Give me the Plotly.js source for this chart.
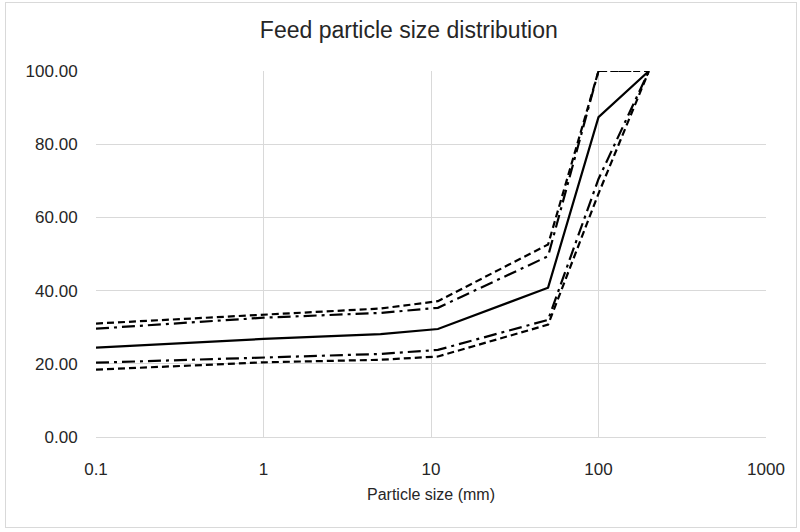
<!DOCTYPE html>
<html>
<head>
<meta charset="utf-8">
<script src="https://cdn.plot.ly/plotly-3.0.1.min.js"></script>
<style>
  html, body { margin: 0; padding: 0; background: #fff; }
  #wrap { position: relative; width: 800px; height: 532px; }
  #chart { width: 800px; height: 532px; }
  #frame { position: absolute; left: 5px; top: 2px; width: 790px; height: 524px; border: 1px solid #d9d9d9; pointer-events: none; }
</style>
</head>
<body>
<div id="wrap"><div id="chart"></div><div id="frame"></div></div>
<script>
// Particle sizes (mm)
const sizes = [0.1, 1, 5, 11, 50, 100, 200];
// Cumulative passing (%) for each curve
const upperDashed = [31.0, 33.4, 35.1, 37.1, 52.6, 100, 100];
const upperDashDot = [29.6, 32.6, 33.9, 35.3, 49.4, 100, 100];
const median = [24.4, 26.8, 28.1, 29.5, 40.8, 87.4, 100];
const lowerDashDot = [20.3, 21.6, 22.7, 23.8, 32.0, 70.5, 100];
const lowerDashed = [18.4, 20.4, 21.1, 22.0, 30.7, 66.5, 100];
const xTickVals = [0.1, 1, 10, 100, 1000];
const xTickText = ['0.1', '1', '10', '100', '1000'];

const dashStyle = '7px,4px';
const dashDotStyle = '13px,5px,3px,5px';
const mk = (y, dash, name) => ({
  x: sizes, y: y, type: 'scatter', mode: 'lines', name: name,
  line: { color: '#000', width: 2.2, dash: dash }, showlegend: false
});

const data = [
  mk(upperDashed, dashStyle, 'Upper bound'),
  mk(upperDashDot, dashDotStyle, 'Upper'),
  mk(median, 'solid', 'Mean'),
  mk(lowerDashDot, dashDotStyle, 'Lower'),
  mk(lowerDashed, dashStyle, 'Lower bound')
];

const font = 'Liberation Sans, Arial, sans-serif';
const layout = {
  width: 800, height: 532,
  margin: { l: 96, r: 34, t: 71, b: 95 },
  paper_bgcolor: '#fff', plot_bgcolor: '#fff',
  title: {
    text: 'Feed particle size distribution',
    font: { family: font, size: 23, color: '#262626' },
    x: 0.511, xref: 'container', xanchor: 'center', y: 0.943, yanchor: 'middle'
  },
  xaxis: {
    type: 'log', range: [-1, 3],
    tickvals: xTickVals, ticktext: xTickText,
    showgrid: true, gridcolor: '#d9d9d9', gridwidth: 1,
    showline: true, linecolor: '#d9d9d9', linewidth: 1,
    ticks: 'outside', ticklen: 17, tickcolor: 'rgba(0,0,0,0)',
    zeroline: false,
    tickfont: { family: font, size: 17, color: '#262626' },
    title: { text: 'Particle size (mm)', standoff: 10,
      font: { family: font, size: 16, color: '#262626' } }
  },
  yaxis: {
    range: [0, 100], dtick: 20, tickformat: '.2f',
    showgrid: true, gridcolor: '#d9d9d9', gridwidth: 1,
    showline: false, zeroline: false,
    ticks: 'outside', ticklen: 14, tickcolor: 'rgba(0,0,0,0)',
    tickfont: { family: font, size: 17, color: '#262626' }
  }
};

Plotly.newPlot('chart', data, layout, { displayModeBar: false, staticPlot: true });
</script>
</body>
</html>
